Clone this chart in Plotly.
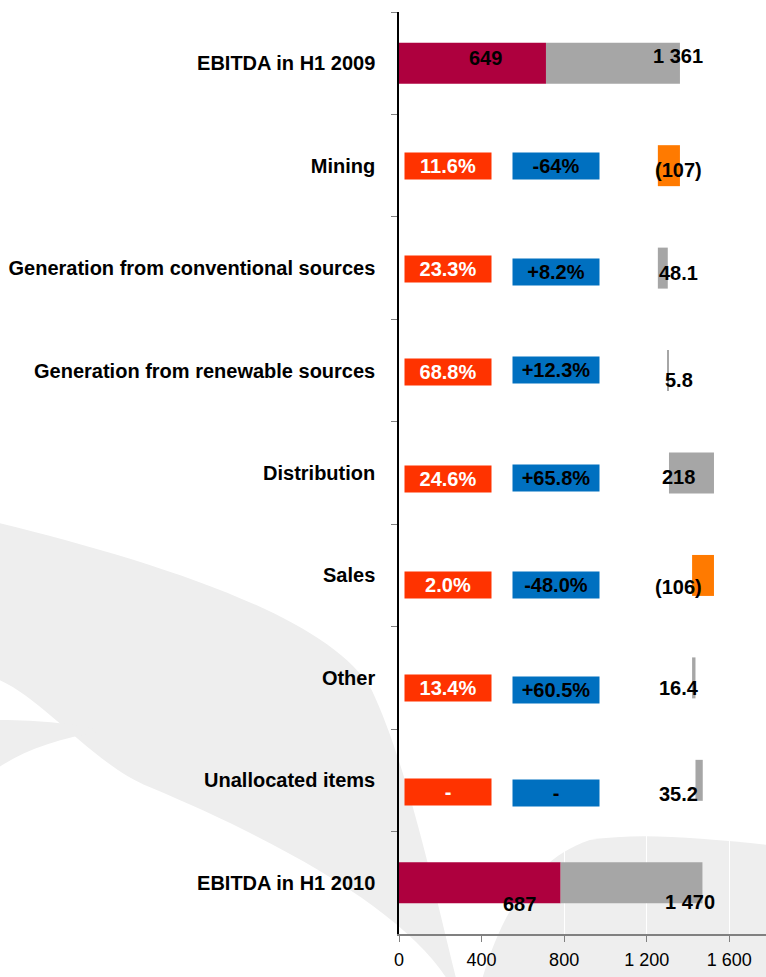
import plotly.graph_objects as go

# ---------------- data ----------------
categories = [
    "EBITDA in H1 2009",
    "Mining",
    "Generation from conventional sources",
    "Generation from renewable sources",
    "Distribution",
    "Sales",
    "Other",
    "Unallocated items",
    "EBITDA in H1 2010",
]
ebitda_start_total = 1361
ebitda_start_part = 649
segment_changes = [-107, 48.1, 5.8, 218, -106, 16.4, 35.2]
ebitda_end_total = 1470
ebitda_end_part = 687
share_labels = ["11.6%", "23.3%", "68.8%", "24.6%", "2.0%", "13.4%", "-"]
change_labels = ["-64%", "+8.2%", "+12.3%", "+65.8%", "-48.0%", "+60.5%", "-"]
x_tick_values = [0, 400, 800, 1200, 1600]
x_tick_labels = ["0", "400", "800", "1 200", "1 600"]

# ---------------- styling ----------------
FONT = "Liberation Sans, Arial, sans-serif"
CRIMSON = "#AE003E"
GREY = "#A6A6A6"
ORANGE = "#FF7A00"
RED_BOX = "#FF3300"
BLUE_BOX = "#0070C0"
WATERMARK = "#EEEEEE"

W, H = 766, 977
L, R, T, B = 399.3, 766, 12, 934
XMAX = (R - L) / (82.5 / 400)

def fmt(v):
    a = abs(v)
    s = f"{a:,.0f}".replace(",", " ") if float(a).is_integer() else f"{a:.1f}"
    return f"({s})" if v < 0 else s

mid_cats = categories[1:-1]

# waterfall geometry from data
bases, lengths, colors = [], [], []
running = ebitda_start_total
for d in segment_changes:
    new = running + d
    bases.append(min(running, new))
    lengths.append(abs(d))
    colors.append(GREY if d >= 0 else ORANGE)
    running = new

fig = go.Figure()
fig.add_trace(go.Bar(
    y=[categories[0], categories[-1]],
    x=[ebitda_start_total - ebitda_start_part, ebitda_end_total - ebitda_end_part],
    base=[0, 0], orientation="h", width=0.4,
    marker=dict(color=CRIMSON, line_width=0), hoverinfo="skip"))
fig.add_trace(go.Bar(
    y=[categories[0], categories[-1]],
    x=[ebitda_start_part, ebitda_end_part],
    base=[ebitda_start_total - ebitda_start_part, ebitda_end_total - ebitda_end_part],
    orientation="h", width=0.4,
    marker=dict(color=GREY, line_width=0), hoverinfo="skip"))
fig.add_trace(go.Bar(
    y=mid_cats, x=lengths, base=bases, orientation="h", width=0.4,
    marker=dict(color=colors, line_width=0), hoverinfo="skip"))

ann = []
lab_font = dict(family=FONT, size=20, color="black", weight="bold")
# totals labels
ann.append(dict(x=ebitda_start_total, y=categories[0], text=fmt(ebitda_start_total),
                xshift=-2, yshift=7))
ann.append(dict(x=ebitda_start_total - ebitda_start_part, y=categories[0],
                text=fmt(ebitda_start_part), xshift=-60, yshift=5))
ann.append(dict(x=ebitda_end_total, y=categories[-1], text=fmt(ebitda_end_total),
                xshift=-12, yshift=-19))
ann.append(dict(x=ebitda_end_total - ebitda_end_part, y=categories[-1],
                text=fmt(ebitda_end_part), xshift=-41, yshift=-21))
# waterfall value labels (fixed column)
VAL_COL = 1356
val_dy = [-4, -5, -9, -4, -12, -10, -14]
for c, d, dy in zip(mid_cats, segment_changes, val_dy):
    ann.append(dict(x=VAL_COL, y=c, text=fmt(d), yshift=dy))
for a in ann:
    a.update(xref="x", yref="y", showarrow=False, font=lab_font,
             xanchor="center", yanchor="middle")

# coloured boxes
RED_X = (448 - L) / (R - L)
BLUE_X = (556 - L) / (R - L)
red_dy = [0, -1, -1, -6, -10, -10, -12]
blue_dy = [0, -4, 1, -5, -10, -12, -13]
for c, s, ch, rdy, bdy in zip(mid_cats, share_labels, change_labels, red_dy, blue_dy):
    ann.append(dict(xref="paper", yref="y", x=RED_X, y=c, text=s, showarrow=False,
                    xanchor="center", yanchor="middle",
                    width=86, height=26, bgcolor=RED_BOX, borderpad=0, yshift=rdy,
                    font=dict(family=FONT, size=20, color="white", weight="bold")))
    ann.append(dict(xref="paper", yref="y", x=BLUE_X, y=c, text=ch, showarrow=False,
                    xanchor="center", yanchor="middle",
                    width=86, height=26, bgcolor=BLUE_BOX, borderpad=0, yshift=bdy,
                    font=dict(family=FONT, size=20, color="black", weight="bold")))

# watermark swooshes (pixel coords -> paper)
def P(px, py):
    return f"{(px - L) / (R - L):.4f},{(B - py) / (B - T):.4f}"

band = (f"M {P(0,523)} C {P(150,560)} {P(330,615)} {P(372,690)} "
        f"C {P(405,760)} {P(430,870)} {P(456,977)} L {P(446,977)} "
        f"C {P(405,915)} {P(300,850)} {P(150,787)} "
        f"C {P(95,765)} {P(45,700)} {P(0,680)} Z")
tongue = (f"M {P(0,720)} C {P(40,720)} {P(80,724)} {P(104,731)} "
          f"C {P(60,738)} {P(25,750)} {P(0,767)} Z")
right = (f"M {P(483,977)} C {P(500,920)} {P(530,860)} {P(590,840)} "
         f"C {P(640,832)} {P(700,838)} {P(770,845)} L {P(770,980)} Z")
shapes = [dict(type="path", path=p, xref="paper", yref="paper", layer="below",
               fillcolor=WATERMARK, line_width=0) for p in (band, tongue, right)]

fig.update_layout(
    width=W, height=H, barmode="overlay", showlegend=False,
    margin=dict(l=L, r=W - R, t=T, b=H - B, pad=0),
    paper_bgcolor="white", plot_bgcolor="rgba(0,0,0,0)",
    annotations=ann, shapes=shapes,
    xaxis=dict(range=[0, XMAX], tickvals=x_tick_values, ticktext=x_tick_labels,
               showgrid=True, gridcolor="white", gridwidth=1, zeroline=False,
               showline=True, linecolor="#808080", linewidth=2,
               ticks="outside", ticklen=6, tickcolor="#808080", tickwidth=1,
               ticklabelstandoff=2,
               tickfont=dict(family=FONT, size=18, color="black")),
    yaxis=dict(categoryorder="array", categoryarray=categories,
               range=[len(categories) - 0.5, -0.5], tickson="boundaries",
               showgrid=False, zeroline=False, showline=True, linecolor="black",
               linewidth=1.5, ticks="outside", ticklen=6, tickcolor="#808080",
               tickwidth=1, ticklabelstandoff=18,
               tickfont=dict(family=FONT, size=20, color="black", weight="bold")),
)

fig.write_html("out.html", config={"displayModeBar": False},
               post_script="document.body.style.margin='0';")
